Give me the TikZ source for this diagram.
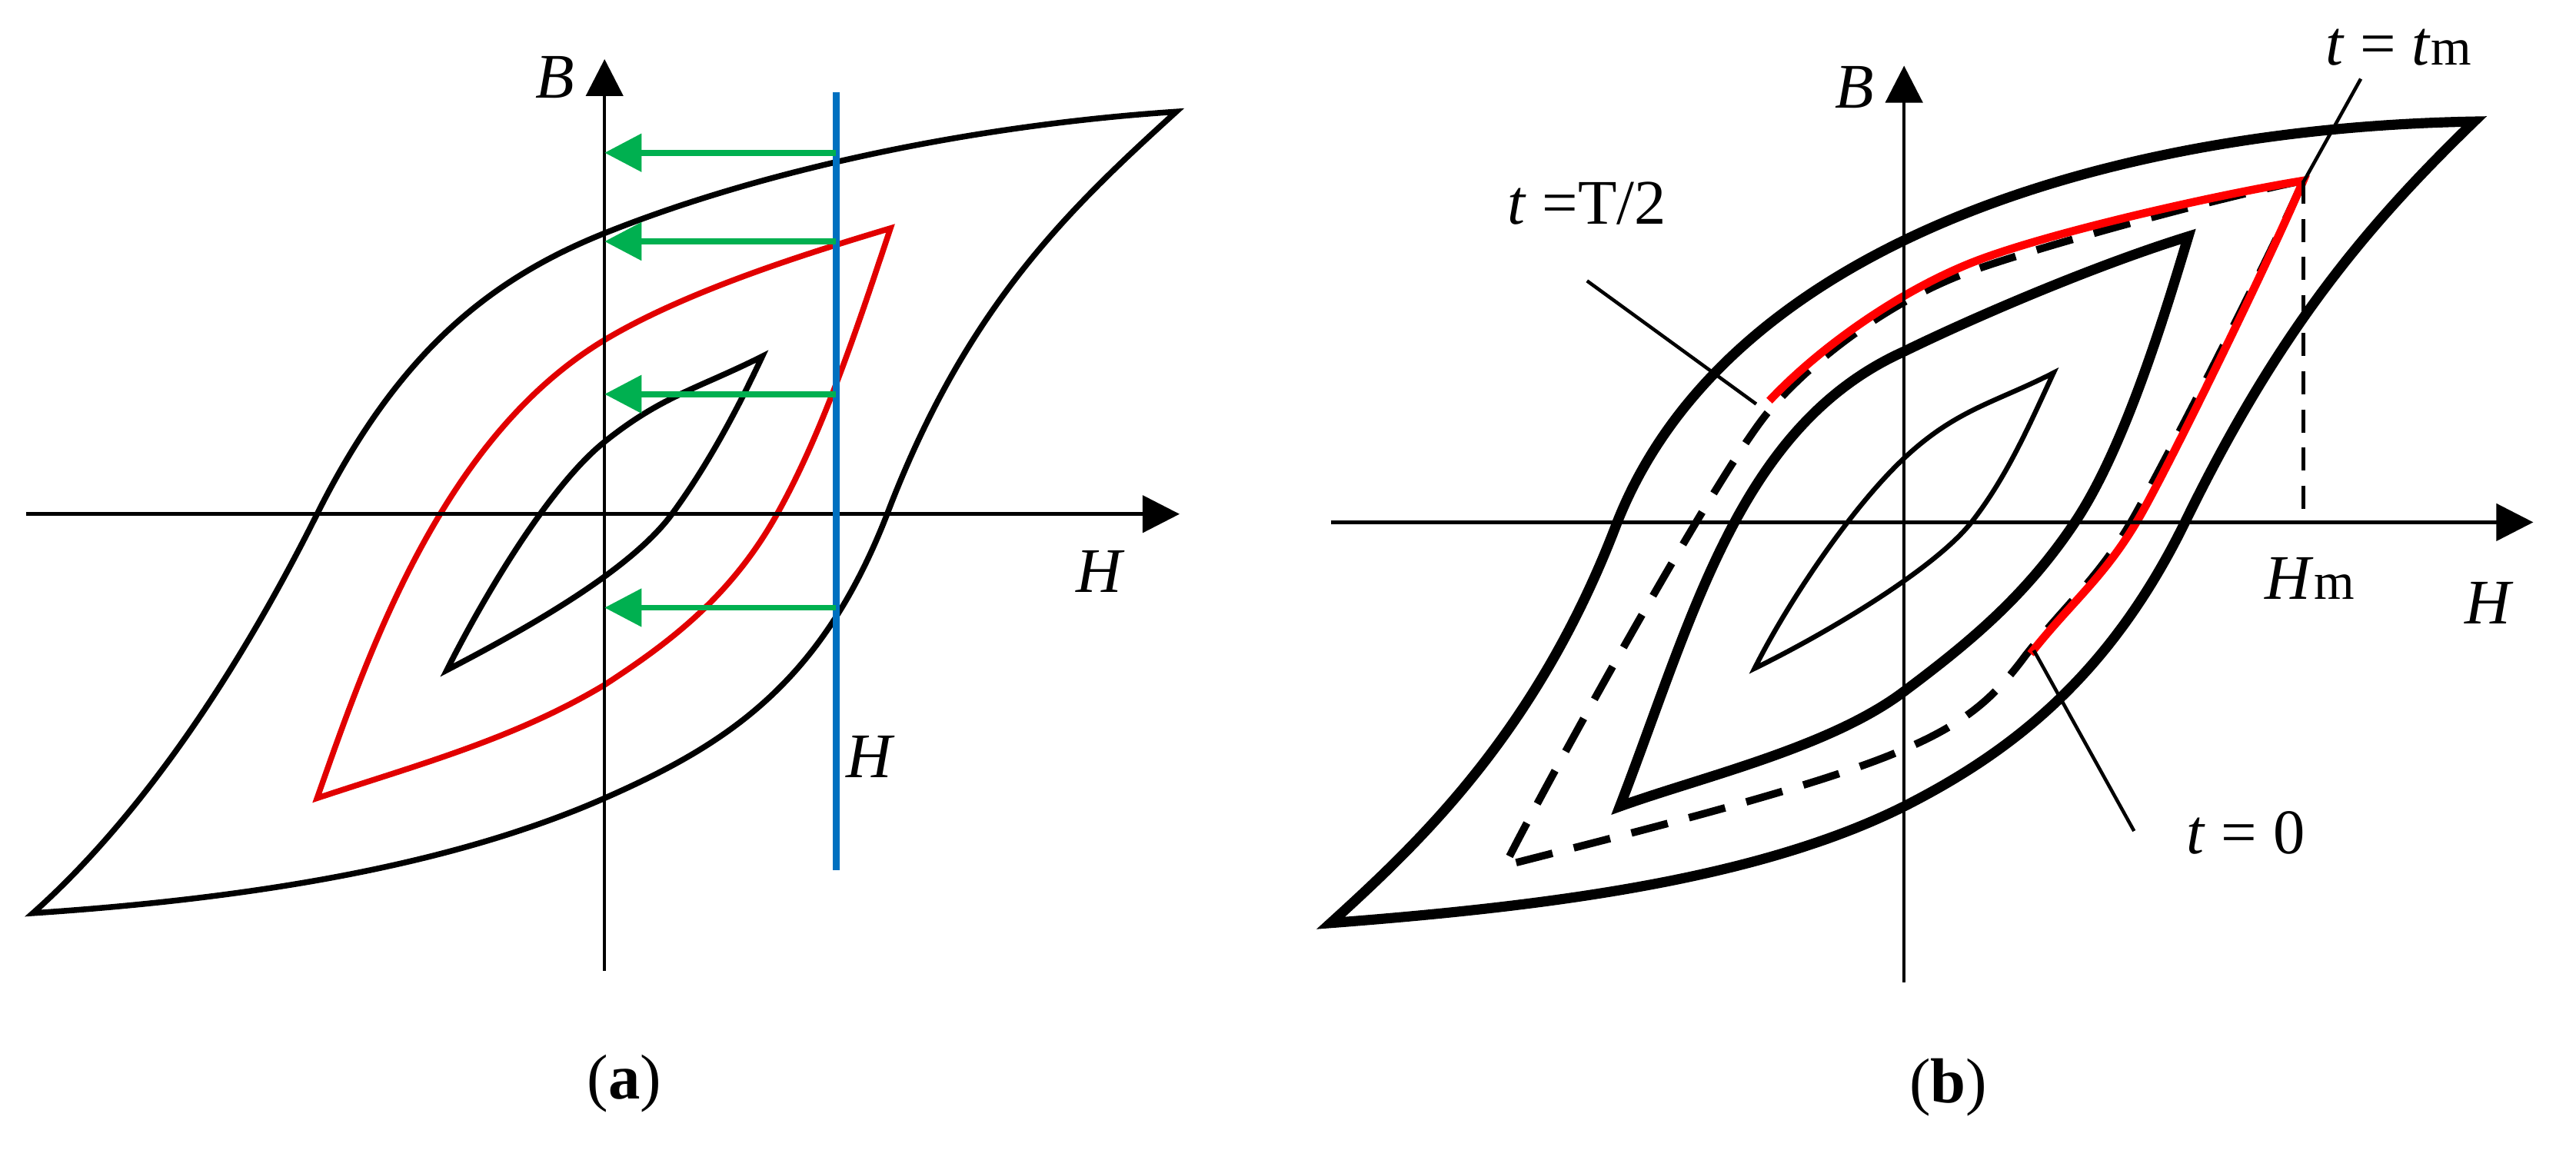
\documentclass[tikz,border=0pt]{standalone}
\usepackage{fontspec}
\setmainfont{Liberation Serif}
\usetikzlibrary{arrows.meta}
\definecolor{redc}{RGB}{225,0,0}
\definecolor{bluec}{RGB}{0,112,192}
\definecolor{greenc}{RGB}{0,176,80}
\begin{document}
\begin{tikzpicture}[x=0.01cm,y=-0.01cm,
  axis/.style={line width=0.6pt,-{Triangle[length=6.4pt,width=6.4pt]}},
  loopA/.style={line width=1.0pt,line join=miter,miter limit=4},
  loopBthick/.style={line width=1.75pt,line join=miter,miter limit=4},
  loopBthin/.style={line width=0.85pt,line join=miter,miter limit=4},
  redA/.style={redc,line width=1.0pt,line join=miter},
  redB/.style={red,line width=1.4pt,line join=miter},
  dashB/.style={line width=1.3pt,dash pattern=on 6.5pt off 3.8pt},
  hmdash/.style={line width=0.7pt,dash pattern=on 4pt off 2.6pt},
  greenarrow/.style={greenc,line width=1.05pt,-{Triangle[length=6.4pt,width=6.4pt]}},
  leader/.style={line width=0.6pt},
  lbl/.style={inner sep=0pt,font=\fontsize{11}{13}\selectfont}]
\useasboundingbox (0,0) rectangle (1568,700);

% ================= Panel (a) =================
% outer loop
\draw[loopA] (20,556) .. controls (65,516) and (128,443) .. (193,313)
  .. controls (242,215) and (298,170) .. (368,142)
  .. controls (468,102) and (596,76) .. (716,68)
  .. controls (650,128) and (588,187) .. (540,313)
  .. controls (500,416) and (443,453) .. (368,486)
  .. controls (268,530) and (140,548) .. (20,556) -- cycle;
% red loop
\draw[redA] (193,486) .. controls (223,401) and (268,267) .. (368,207)
  .. controls (418,177) and (492,154) .. (542,139)
  .. controls (522,199) and (501,263) .. (473,313)
  .. controls (445,363) and (408,391) .. (368,417)
  .. controls (313,450) and (253,466) .. (193,486) -- cycle;
% inner loop
\draw[loopA] (272,408) .. controls (292,368) and (333,297) .. (368,269)
  .. controls (403,241) and (424,237) .. (464,217)
  .. controls (449,249) and (431,283) .. (409,313)
  .. controls (384,347) and (322,382) .. (272,408) -- cycle;

\coordinate (aB0) at (368,591);
\coordinate (aB1) at (368,36);
\coordinate (aH0) at (16,313);
\coordinate (aH1) at (718,313);
\draw[axis] (aB0) -- (aB1);
\draw[axis] (aH0) -- (aH1);
\node[lbl] (aBl) at (338,47) {\textit{B}};
\node[lbl] (aHl) at (670,348) {\textit{H}};

\coordinate (blue0) at (509,56);
\coordinate (blue1) at (509,530);
\draw[bluec,line width=1.3pt] (blue0) -- (blue1);
\node[lbl] (aHb) at (530,461) {\textit{H}};

\foreach \i/\yy in {1/93,2/147,3/240,4/370}{
  \coordinate (gs\i) at (509,\yy);
  \coordinate (ge\i) at (368,\yy);
  \draw[greenarrow] (gs\i) -- (ge\i);
}
\node[lbl] (capa) at (380,660) {(\textbf{a})};

% ================= Panel (b) =================
% outer loop
\draw[loopBthick] (810,562) .. controls (865,512) and (936,445) .. (984,319)
  .. controls (1050,150) and (1280,78) .. (1506,74)
  .. controls (1440,138) and (1387,201) .. (1330,318)
  .. controls (1284,412) and (1224,458) .. (1159,491)
  .. controls (1069,536) and (940,552) .. (810,562) -- cycle;
% middle loop
\draw[loopBthick] (986,491) .. controls (1031,374) and (1059,259) .. (1159,214)
  .. controls (1204,192) and (1277,161) .. (1332,144)
  .. controls (1317,194) and (1293,273) .. (1263,318)
  .. controls (1233,363) and (1199,391) .. (1159,421)
  .. controls (1114,455) and (1036,473) .. (986,491) -- cycle;
% inner loop
\draw[loopBthin] (1068,407) .. controls (1088,367) and (1127,309) .. (1159,279)
  .. controls (1191,249) and (1215,245) .. (1250,227)
  .. controls (1236,257) and (1222,290) .. (1200,318)
  .. controls (1178,346) and (1113,385) .. (1068,407) -- cycle;

% dashed loop
\draw[dashB] (1402,110) .. controls (1352,120) and (1245,149) .. (1200,165)
  .. controls (1155,181) and (1107,215) .. (1077,250)
  .. controls (1047,285) and (941,477) .. (916,527)
  .. controls (990,508) and (1095,482) .. (1150,460)
  .. controls (1195,442) and (1213,426) .. (1233,399)
  .. controls (1259,366) and (1279,351) .. (1301,311)
  .. controls (1323,271) and (1380,160) .. (1402,110);
% red part
\draw[redB] (1077,244) .. controls (1107,212) and (1155,178) .. (1200,160)
  .. controls (1245,142) and (1352,118) .. (1402,110)
  .. controls (1382,157) and (1327,270) .. (1305,310)
  .. controls (1283,350) and (1262,365) .. (1236,398);

\coordinate (bB0) at (1159,598);
\coordinate (bB1) at (1159,40);
\coordinate (bH0) at (810,318);
\coordinate (bH1) at (1542,318);
\draw[axis] (bB0) -- (bB1);
\draw[axis] (bH0) -- (bH1);
\node[lbl] (bBl) at (1129,53) {\textit{B}};
\node[lbl] (bHl) at (1515,367) {\textit{H}};

\coordinate (hmtop) at (1402,110);
\coordinate (hmbot) at (1402,318);
\draw[hmdash] (hmtop) -- (hmbot);
\node[lbl] (bHm) at (1406,352) {\textit{H}{\fontsize{9}{10}\selectfont m}};

\node[lbl] (ttm) at (1460,29) {\textit{t} = \textit{t}{\fontsize{9}{10}\selectfont m}};
\coordinate (ttm0) at (1437,48);
\coordinate (ttm1) at (1402,111);
\draw[leader] (ttm0) -- (ttm1);

\node[lbl] (tT2) at (966,124) {\textit{t} =T/2};
\coordinate (tT20) at (966,171);
\coordinate (tT21) at (1069,246);
\draw[leader] (tT20) -- (tT21);

\node[lbl] (t0) at (1367,507) {\textit{t} = 0};
\coordinate (t00) at (1238,396);
\coordinate (t01) at (1299,506);
\draw[leader] (t00) -- (t01);

\node[lbl] (capb) at (1186,662) {(\textbf{b})};
\end{tikzpicture}
\end{document}
